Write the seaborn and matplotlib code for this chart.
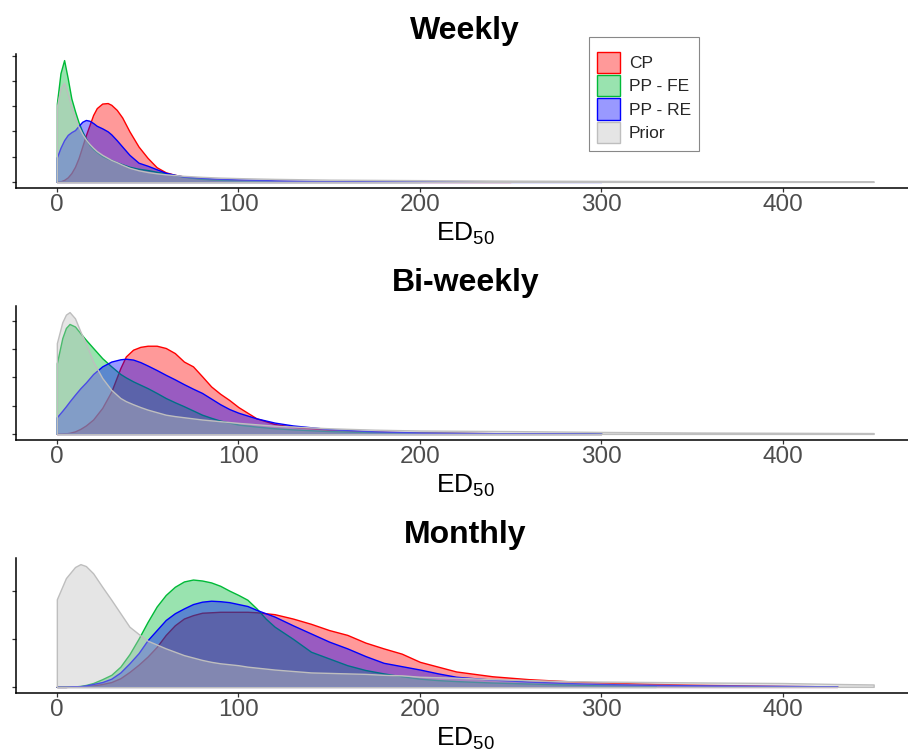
import numpy as np
import pandas as pd
import matplotlib
matplotlib.use("Agg")
import matplotlib.pyplot as plt
from matplotlib.patches import Patch
from matplotlib.colors import to_rgba
import seaborn as sns

# Series (drawn in this order, like the factor levels)
SERIES = ['CP', 'PP - FE', 'PP - RE', 'Prior']
COLORS = {'CP': '#FF0000', 'PP - FE': '#00BA38', 'PP - RE': '#0000FF', 'Prior': '#BEBEBE'}
PANELS = ['Weekly', 'Bi-weekly', 'Monthly']
X_TICKS = [0, 100, 200, 300, 400]

# Density values, in units of one y tick step

# Weekly
weekly_x = [0, 2, 4, 6, 8, 10, 12, 14, 16, 18, 20, 22, 25, 28, 30, 33, 36, 40, 45, 50,
            55, 60, 65, 70, 80, 90, 100, 120, 150, 200, 250, 300, 350, 400, 450]
weekly_cp = [0, 0.02, 0.08, 0.18, 0.35, 0.6, 0.95, 1.4, 1.85, 2.25, 2.65, 2.92, 3.1, 3.12, 3.05,
             2.85, 2.55, 2.0, 1.4, 0.95, 0.58, 0.38, 0.28, 0.21, 0.13, 0.09, 0.07, 0.04, 0.02,
             0.01, 0.01]
weekly_fe = [3.1, 4.3, 4.82, 4.1, 3.3, 2.8, 2.35, 2.0, 1.72, 1.45, 1.3, 1.18, 1.02, 0.92, 0.87,
             0.78, 0.7, 0.6, 0.52, 0.47, 0.4, 0.34, 0.27, 0.2, 0.12, 0.08, 0.05, 0.03, 0.02, 0.01]
weekly_re = [0.97, 1.35, 1.65, 1.86, 1.97, 2.05, 2.22, 2.38, 2.45, 2.42, 2.33, 2.22, 2.12, 2.0,
             1.88, 1.65, 1.4, 1.07, 0.76, 0.64, 0.5, 0.36, 0.28, 0.21, 0.16, 0.12, 0.1, 0.06,
             0.03, 0.02, 0.01, 0.01]
weekly_prior = [2.97, 3.7, 3.92, 3.5, 2.97, 2.55, 2.18, 1.9, 1.68, 1.5, 1.35, 1.22, 1.07, 0.95,
                0.87, 0.78, 0.68, 0.56, 0.46, 0.39, 0.34, 0.3, 0.27, 0.24, 0.2, 0.17, 0.15,
                0.12, 0.09, 0.07, 0.05, 0.04, 0.03, 0.03, 0.02]

# Bi-weekly
biweekly_x = [0, 3, 5, 7, 10, 13, 16, 20, 25, 30, 35, 38, 42, 46, 50, 55, 60, 65, 70, 75, 80,
              85, 90, 95, 100, 110, 120, 130, 150, 175, 200, 250, 300, 350, 400, 450]
biweekly_cp = [0, 0.01, 0.02, 0.04, 0.09, 0.18, 0.3, 0.51, 0.92, 1.5, 2.33, 2.74, 2.98, 3.08,
               3.12, 3.12, 3.04, 2.86, 2.56, 2.39, 2.04, 1.68, 1.42, 1.2, 0.95, 0.55, 0.35,
               0.25, 0.14, 0.08, 0.05, 0.02, 0.01]
biweekly_fe = [2.5, 3.39, 3.75, 3.89, 3.8, 3.56, 3.33, 3.04, 2.68, 2.39, 2.12, 2.0, 1.86, 1.74,
               1.62, 1.45, 1.27, 1.12, 0.98, 0.83, 0.68, 0.57, 0.47, 0.4, 0.33, 0.26, 0.2,
               0.16, 0.1, 0.06, 0.04, 0.02, 0.01]
biweekly_re = [0.59, 0.82, 0.98, 1.15, 1.39, 1.62, 1.82, 2.12, 2.39, 2.56, 2.64, 2.66, 2.63,
               2.54, 2.42, 2.26, 2.09, 1.93, 1.76, 1.6, 1.45, 1.25, 1.05, 0.88, 0.75, 0.55,
               0.4, 0.3, 0.17, 0.09, 0.05, 0.02, 0.01]
biweekly_prior = [3.21, 3.95, 4.22, 4.31, 4.09, 3.62, 3.2, 2.56, 1.98, 1.56, 1.27, 1.16, 1.05,
                  0.95, 0.86, 0.77, 0.68, 0.63, 0.59, 0.55, 0.51, 0.48, 0.45, 0.42, 0.39, 0.34,
                  0.29, 0.26, 0.2, 0.15, 0.12, 0.1, 0.07, 0.05, 0.04, 0.03]

# Monthly
monthly_x = [0, 5, 10, 13, 16, 20, 25, 30, 35, 40, 45, 50, 55, 60, 65, 70, 75, 80, 85, 90, 95,
             100, 105, 110, 115, 120, 130, 140, 150, 160, 170, 180, 190, 200, 210, 220, 240,
             260, 280, 300, 330, 360, 400, 430, 450]
monthly_cp = [0, 0, 0.005, 0.01, 0.02, 0.03, 0.06, 0.1, 0.18, 0.31, 0.46, 0.63, 0.83, 1.08,
              1.28, 1.42, 1.49, 1.54, 1.55, 1.56, 1.56, 1.56, 1.56, 1.55, 1.53, 1.51, 1.42,
              1.31, 1.18, 1.08, 0.92, 0.8, 0.69, 0.52, 0.42, 0.32, 0.22, 0.16, 0.12, 0.09,
              0.06, 0.04, 0.02, 0.01]
monthly_fe = [0, 0, 0.01, 0.02, 0.04, 0.08, 0.16, 0.25, 0.42, 0.68, 1.0, 1.35, 1.67, 1.91,
              2.08, 2.19, 2.23, 2.21, 2.17, 2.1, 2.0, 1.91, 1.81, 1.63, 1.42, 1.25, 1.0, 0.73,
              0.59, 0.45, 0.35, 0.28, 0.22, 0.17, 0.14, 0.12, 0.09, 0.07, 0.05, 0.03, 0.02]
monthly_re = [0, 0, 0.01, 0.015, 0.03, 0.06, 0.1, 0.17, 0.3, 0.49, 0.7, 0.97, 1.18, 1.39,
              1.53, 1.63, 1.72, 1.77, 1.79, 1.78, 1.76, 1.72, 1.68, 1.6, 1.53, 1.46, 1.28,
              1.11, 0.94, 0.8, 0.64, 0.5, 0.43, 0.36, 0.28, 0.21, 0.15, 0.11, 0.08, 0.06,
              0.04, 0.03, 0.02, 0.01]
monthly_prior = [1.82, 2.26, 2.49, 2.55, 2.51, 2.36, 2.08, 1.81, 1.53, 1.25, 1.1, 0.96, 0.88,
                 0.8, 0.73, 0.66, 0.61, 0.56, 0.52, 0.49, 0.47, 0.45, 0.42, 0.4, 0.38, 0.36,
                 0.33, 0.3, 0.29, 0.28, 0.27, 0.25, 0.24, 0.21, 0.2, 0.19, 0.16, 0.14, 0.12,
                 0.11, 0.1, 0.09, 0.08, 0.06, 0.05]


def build_frame():
    sources = {
        'Weekly': (weekly_x, [weekly_cp, weekly_fe, weekly_re, weekly_prior]),
        'Bi-weekly': (biweekly_x, [biweekly_cp, biweekly_fe, biweekly_re, biweekly_prior]),
        'Monthly': (monthly_x, [monthly_cp, monthly_fe, monthly_re, monthly_prior]),
    }
    rows = []
    for panel, (xs, curves) in sources.items():
        for name, ys in zip(SERIES, curves):
            for x, y in zip(xs, ys):
                rows.append((panel, name, x, y))
    return pd.DataFrame(rows, columns=['panel', 'series', 'ED50', 'density'])


def main():
    df = build_frame()

    sns.set_theme(style="ticks")
    plt.rcParams['font.family'] = ['Liberation Sans', 'DejaVu Sans']
    plt.rcParams['mathtext.default'] = 'regular'

    fig = plt.figure(figsize=(9.08, 7.55), dpi=100)
    W, H = 908.0, 755.0
    # axes boxes in pixels: (left, top, right, bottom); the panel runs past the right edge
    boxes = [(16, 54, 914.5, 188), (16, 306, 914.5, 440), (16, 558, 914.5, 693)]

    for panel, (l, t, r, b) in zip(PANELS, boxes):
        ax = fig.add_axes([l / W, 1 - b / H, (r - l) / W, (b - t) / H])
        sub = df[df['panel'] == panel]
        for name in SERIES:
            s = sub[sub['series'] == name]
            ax.fill_between(s['ED50'], s['density'],
                            facecolor=to_rgba(COLORS[name], 0.4),
                            edgecolor=COLORS[name], linewidth=1.0)

        ymax = sub['density'].max()
        xmax = sub['ED50'].max()
        ax.set_ylim(-0.05 * ymax, 1.05 * ymax)
        ax.set_xlim(-0.05 * xmax, 1.05 * xmax)
        ax.set_yticks(np.arange(0, int(1.05 * ymax) + 1))
        ax.set_xticks(X_TICKS)
        ax.tick_params(axis='both', length=3, width=0.9, color='#333333',
                       labelcolor='#4D4D4D', labelsize=17.5, pad=1)
        ax.tick_params(axis='y', labelleft=False)
        ax.set_ylabel('')
        ax.set_xlabel(r'ED$_{50}$', fontsize=19, color='black', labelpad=4)
        ax.set_title(panel, fontsize=23, fontweight='bold', color='black', pad=11)
        sns.despine(ax=ax)
        for side in ['left', 'bottom']:
            ax.spines[side].set_color('black')
            ax.spines[side].set_linewidth(1.1)

    handles = [Patch(facecolor=to_rgba(COLORS[n], 0.4), edgecolor=COLORS[n], linewidth=1.0)
               for n in SERIES]
    leg = fig.legend(handles, SERIES, loc='upper left',
                     bbox_to_anchor=(589 / W, 1 - 37 / H), fontsize=12.5,
                     title=' ', title_fontsize=4,
                     handlelength=1.36, handleheight=1.5, labelspacing=0.12,
                     handletextpad=0.48, borderpad=0.45, borderaxespad=0,
                     fancybox=False, framealpha=1)
    leg.get_frame().set_edgecolor('#888888')
    leg.get_frame().set_linewidth(0.8)

    fig.savefig('out.png', dpi=100)
    plt.close(fig)


if __name__ == "__main__":
    main()
